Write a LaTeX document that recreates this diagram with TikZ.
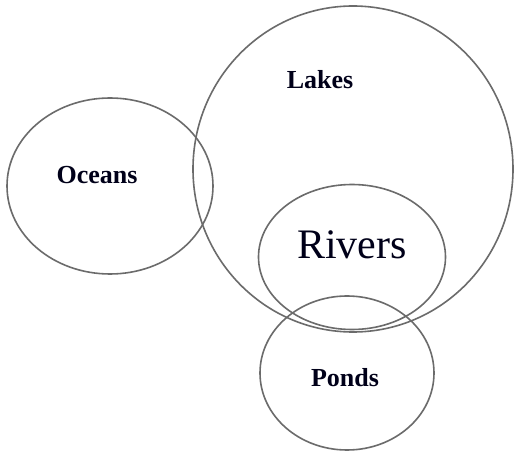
\documentclass[tikz,border=0pt]{standalone}
\usepackage{fontspec}
\setmainfont{Liberation Serif}
\usetikzlibrary{shapes.geometric}
\begin{document}
\begin{tikzpicture}[x=1pt,y=-1pt,
  setshape/.style={draw=black!58,line width=1.6pt,ellipse,inner sep=0pt,outer sep=0pt},
  lbl/.style={text=black!90!blue,inner sep=0pt,font=\bfseries\fontsize{26}{28}\selectfont}]
\useasboundingbox[fill=white] (0,0) rectangle (515,457);
\node[setshape,minimum width=206pt,minimum height=176pt] (oceans) at (110,186) {};
\node[setshape,minimum width=320pt,minimum height=326pt] (lakes) at (353,169) {};
\node[setshape,minimum width=187pt,minimum height=145pt] (rivers) at (352,257) {};
\node[setshape,minimum width=174pt,minimum height=154pt] (ponds) at (347,373) {};
\node[lbl] (tOceans) at (97,175) {Oceans};
\node[lbl] (tLakes) at (320,80) {Lakes};
\node[lbl] (tPonds) at (345,378) {Ponds};
\node[text=black!90!blue,inner sep=0pt,font=\fontsize{42}{44}\selectfont] (tRivers) at (352,245) {Rivers};
\end{tikzpicture}
\end{document}
